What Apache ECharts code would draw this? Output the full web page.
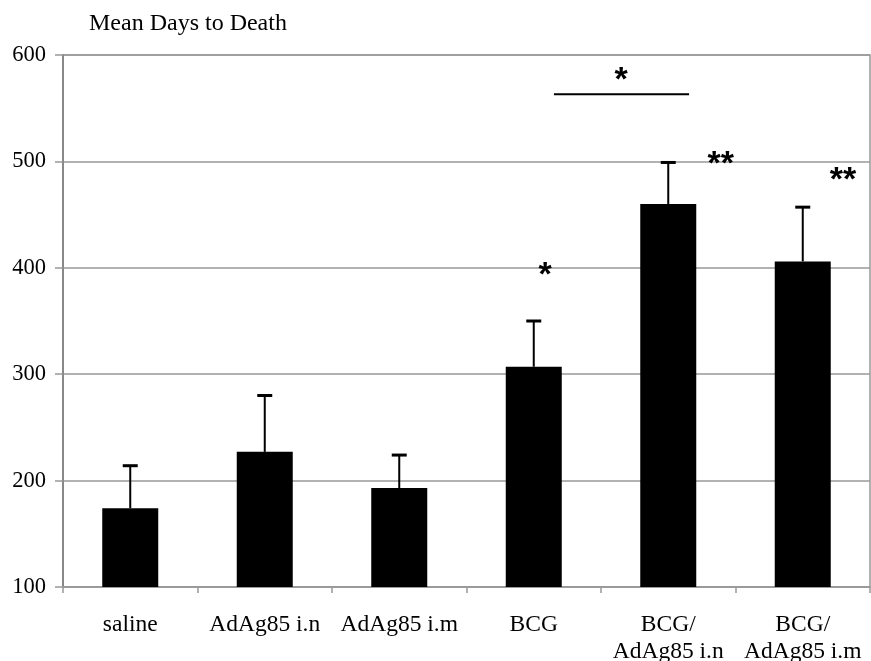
<!DOCTYPE html>
<html>
<head>
<meta charset="utf-8">
<script src="https://cdn.jsdelivr.net/npm/echarts@6/dist/echarts.min.js"></script>
<style>html,body{margin:0;padding:0;background:#fff;}#c{width:871px;height:661px;}</style>
</head>
<body>
<div id="c"></div>
<script>
const categories = ['saline', 'AdAg85 i.n', 'AdAg85 i.m', 'BCG', 'BCG/\nAdAg85 i.n', 'BCG/\nAdAg85 i.m'];
const meanDays = [174, 227, 193, 307, 460, 406];
const upperError = [214, 280, 224, 350, 499, 457];
const yTicks = [100, 200, 300, 400, 500, 600];
// significance marks: [category index, offset in category widths, value, text]
const sigMarks = [
  [3, 0.085, 400, '*'],
  [4, 0.39, 504, '**'],
  [5, 0.30, 489, '**'],
  [3, 0.65, 583, '*']
];
// bracket line between BCG and BCG/AdAg85 i.n: [startIdx, startOff, endIdx, endOff, value]
const bracket = [[3, 0.15, 4, 0.155, 563]];

const chart = echarts.init(document.getElementById('c'));
const serif = '"Liberation Serif", "Times New Roman", serif';
const starSize = 34;
chart.setOption({
  animation: false,
  title: {
    text: 'Mean Days to Death',
    left: 84, top: 7,
    textStyle: {fontFamily: serif, fontSize: 24, fontWeight: 'normal', color: '#000'}
  },
  grid: {left: 63, right: 1, top: 55, bottom: 74, containLabel: false, outerBoundsMode: 'none',
         show: true, borderColor: '#999', borderWidth: 1.5},
  xAxis: {
    type: 'category',
    data: categories,
    axisLine: {lineStyle: {color: '#999', width: 1.5}},
    axisTick: {show: true, length: 6, lineStyle: {color: '#999', width: 1.5}},
    axisLabel: {fontFamily: serif, fontSize: 23.5, color: '#000', margin: 24, lineHeight: 27, interval: 0}
  },
  yAxis: {
    type: 'value',
    min: yTicks[0], max: yTicks[yTicks.length - 1], interval: 100,
    axisLine: {show: true, lineStyle: {color: '#888', width: 2}},
    axisTick: {show: true, length: 8, lineStyle: {color: '#999', width: 1.5}},
    axisLabel: {fontFamily: serif, fontSize: 22.5, color: '#000', margin: 17},
    splitLine: {lineStyle: {color: '#999', width: 1.5}}
  },
  series: [
    {
      type: 'bar',
      data: meanDays,
      barWidth: 56,
      itemStyle: {color: '#000'},
      z: 2
    },
    {
      type: 'custom',
      data: meanDays.map((v, i) => [i, v, upperError[i]]),
      z: 3,
      renderItem: function (params, api) {
        const i = api.value(0);
        const top = api.coord([i, api.value(1)]);
        const hi = api.coord([i, api.value(2)]);
        return {
          type: 'group',
          children: [
            {type: 'line', shape: {x1: top[0], y1: top[1], x2: hi[0], y2: hi[1]}, style: {stroke: '#000', lineWidth: 2}},
            {type: 'line', shape: {x1: hi[0] - 7.5, y1: hi[1], x2: hi[0] + 7.5, y2: hi[1]}, style: {stroke: '#000', lineWidth: 3}}
          ]
        };
      }
    },
    {
      type: 'custom',
      data: sigMarks,
      z: 4,
      renderItem: function (params, api) {
        const i = api.value(0);
        const off = api.value(1);
        const w = api.size([1, 0])[0];
        const p = api.coord([i, api.value(2)]);
        return {
          type: 'text',
          x: p[0] + off * w, y: p[1] + starSize * 0.23,
          style: {
            text: sigMarks[params.dataIndex][3],
            fontFamily: '"Liberation Sans", Arial, sans-serif',
            fontWeight: 'bold', fontSize: starSize, fill: '#000',
            align: 'center', verticalAlign: 'middle'
          }
        };
      }
    },
    {
      type: 'custom',
      data: bracket,
      z: 4,
      renderItem: function (params, api) {
        const w = api.size([1, 0])[0];
        const a = api.coord([api.value(0), api.value(4)]);
        const b = api.coord([api.value(2), api.value(4)]);
        return {
          type: 'line',
          shape: {x1: a[0] + api.value(1) * w, y1: a[1], x2: b[0] + api.value(3) * w, y2: b[1]},
          style: {stroke: '#000', lineWidth: 2}
        };
      }
    }
  ]
});
</script>
</body>
</html>
